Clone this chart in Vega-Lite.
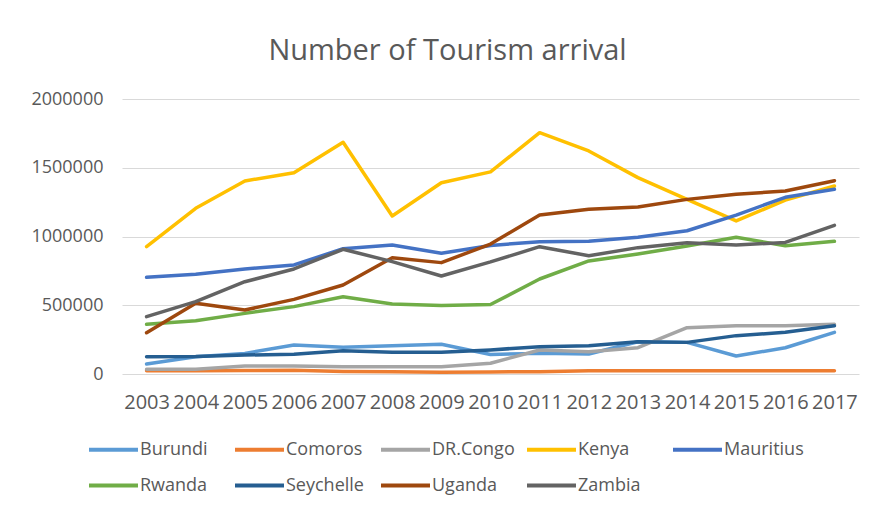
{
  "$schema": "https://vega.github.io/schema/vega-lite/v6.json",
  "autosize": {"type": "none"},
  "width": 737,
  "height": 275,
  "padding": {"left": 122, "top": 99, "right": 14, "bottom": 135},
  "background": "white",
  "title": {
    "text": "Number of Tourism arrival",
    "anchor": "middle",
    "dx": -43,
    "offset": 24,
    "font": "Open Sans",
    "fontSize": 29,
    "fontWeight": "normal",
    "color": "#595959"
  },
  "data": {
    "values": [
      {"country": "Burundi", "year": "2003", "value": 73000},
      {"country": "Burundi", "year": "2004", "value": 126000},
      {"country": "Burundi", "year": "2005", "value": 150000},
      {"country": "Burundi", "year": "2006", "value": 211000},
      {"country": "Burundi", "year": "2007", "value": 194000},
      {"country": "Burundi", "year": "2008", "value": 206000},
      {"country": "Burundi", "year": "2009", "value": 216000},
      {"country": "Burundi", "year": "2010", "value": 142000},
      {"country": "Burundi", "year": "2011", "value": 150000},
      {"country": "Burundi", "year": "2012", "value": 145000},
      {"country": "Burundi", "year": "2013", "value": 235000},
      {"country": "Burundi", "year": "2014", "value": 230000},
      {"country": "Burundi", "year": "2015", "value": 131000},
      {"country": "Burundi", "year": "2016", "value": 191000},
      {"country": "Burundi", "year": "2017", "value": 303000},
      {"country": "Comoros", "year": "2003", "value": 24000},
      {"country": "Comoros", "year": "2004", "value": 24000},
      {"country": "Comoros", "year": "2005", "value": 26000},
      {"country": "Comoros", "year": "2006", "value": 27000},
      {"country": "Comoros", "year": "2007", "value": 19000},
      {"country": "Comoros", "year": "2008", "value": 17000},
      {"country": "Comoros", "year": "2009", "value": 12000},
      {"country": "Comoros", "year": "2010", "value": 15000},
      {"country": "Comoros", "year": "2011", "value": 17000},
      {"country": "Comoros", "year": "2012", "value": 24000},
      {"country": "Comoros", "year": "2013", "value": 24000},
      {"country": "Comoros", "year": "2014", "value": 24000},
      {"country": "Comoros", "year": "2015", "value": 24000},
      {"country": "Comoros", "year": "2016", "value": 24000},
      {"country": "Comoros", "year": "2017", "value": 24000},
      {"country": "DR.Congo", "year": "2003", "value": 34000},
      {"country": "DR.Congo", "year": "2004", "value": 34000},
      {"country": "DR.Congo", "year": "2005", "value": 58000},
      {"country": "DR.Congo", "year": "2006", "value": 58000},
      {"country": "DR.Congo", "year": "2007", "value": 53000},
      {"country": "DR.Congo", "year": "2008", "value": 53000},
      {"country": "DR.Congo", "year": "2009", "value": 53000},
      {"country": "DR.Congo", "year": "2010", "value": 78000},
      {"country": "DR.Congo", "year": "2011", "value": 175000},
      {"country": "DR.Congo", "year": "2012", "value": 162000},
      {"country": "DR.Congo", "year": "2013", "value": 191000},
      {"country": "DR.Congo", "year": "2014", "value": 337000},
      {"country": "DR.Congo", "year": "2015", "value": 351000},
      {"country": "DR.Congo", "year": "2016", "value": 351000},
      {"country": "DR.Congo", "year": "2017", "value": 361000},
      {"country": "Kenya", "year": "2003", "value": 926000},
      {"country": "Kenya", "year": "2004", "value": 1205000},
      {"country": "Kenya", "year": "2005", "value": 1404000},
      {"country": "Kenya", "year": "2006", "value": 1464000},
      {"country": "Kenya", "year": "2007", "value": 1685000},
      {"country": "Kenya", "year": "2008", "value": 1149000},
      {"country": "Kenya", "year": "2009", "value": 1391000},
      {"country": "Kenya", "year": "2010", "value": 1470000},
      {"country": "Kenya", "year": "2011", "value": 1755000},
      {"country": "Kenya", "year": "2012", "value": 1622000},
      {"country": "Kenya", "year": "2013", "value": 1428000},
      {"country": "Kenya", "year": "2014", "value": 1270000},
      {"country": "Kenya", "year": "2015", "value": 1113000},
      {"country": "Kenya", "year": "2016", "value": 1265000},
      {"country": "Kenya", "year": "2017", "value": 1367000},
      {"country": "Mauritius", "year": "2003", "value": 703000},
      {"country": "Mauritius", "year": "2004", "value": 725000},
      {"country": "Mauritius", "year": "2005", "value": 764000},
      {"country": "Mauritius", "year": "2006", "value": 793000},
      {"country": "Mauritius", "year": "2007", "value": 911000},
      {"country": "Mauritius", "year": "2008", "value": 938000},
      {"country": "Mauritius", "year": "2009", "value": 878000},
      {"country": "Mauritius", "year": "2010", "value": 935000},
      {"country": "Mauritius", "year": "2011", "value": 962000},
      {"country": "Mauritius", "year": "2012", "value": 965000},
      {"country": "Mauritius", "year": "2013", "value": 994000},
      {"country": "Mauritius", "year": "2014", "value": 1042000},
      {"country": "Mauritius", "year": "2015", "value": 1156000},
      {"country": "Mauritius", "year": "2016", "value": 1285000},
      {"country": "Mauritius", "year": "2017", "value": 1343000},
      {"country": "Rwanda", "year": "2003", "value": 361000},
      {"country": "Rwanda", "year": "2004", "value": 388000},
      {"country": "Rwanda", "year": "2005", "value": 441000},
      {"country": "Rwanda", "year": "2006", "value": 490000},
      {"country": "Rwanda", "year": "2007", "value": 562000},
      {"country": "Rwanda", "year": "2008", "value": 509000},
      {"country": "Rwanda", "year": "2009", "value": 499000},
      {"country": "Rwanda", "year": "2010", "value": 505000},
      {"country": "Rwanda", "year": "2011", "value": 691000},
      {"country": "Rwanda", "year": "2012", "value": 822000},
      {"country": "Rwanda", "year": "2013", "value": 873000},
      {"country": "Rwanda", "year": "2014", "value": 931000},
      {"country": "Rwanda", "year": "2015", "value": 994000},
      {"country": "Rwanda", "year": "2016", "value": 933000},
      {"country": "Rwanda", "year": "2017", "value": 965000},
      {"country": "Seychelle", "year": "2003", "value": 126000},
      {"country": "Seychelle", "year": "2004", "value": 127000},
      {"country": "Seychelle", "year": "2005", "value": 138000},
      {"country": "Seychelle", "year": "2006", "value": 143000},
      {"country": "Seychelle", "year": "2007", "value": 169000},
      {"country": "Seychelle", "year": "2008", "value": 158000},
      {"country": "Seychelle", "year": "2009", "value": 158000},
      {"country": "Seychelle", "year": "2010", "value": 175000},
      {"country": "Seychelle", "year": "2011", "value": 199000},
      {"country": "Seychelle", "year": "2012", "value": 206000},
      {"country": "Seychelle", "year": "2013", "value": 235000},
      {"country": "Seychelle", "year": "2014", "value": 230000},
      {"country": "Seychelle", "year": "2015", "value": 279000},
      {"country": "Seychelle", "year": "2016", "value": 303000},
      {"country": "Seychelle", "year": "2017", "value": 351000},
      {"country": "Uganda", "year": "2003", "value": 300000},
      {"country": "Uganda", "year": "2004", "value": 515000},
      {"country": "Uganda", "year": "2005", "value": 465000},
      {"country": "Uganda", "year": "2006", "value": 543000},
      {"country": "Uganda", "year": "2007", "value": 647000},
      {"country": "Uganda", "year": "2008", "value": 846000},
      {"country": "Uganda", "year": "2009", "value": 810000},
      {"country": "Uganda", "year": "2010", "value": 945000},
      {"country": "Uganda", "year": "2011", "value": 1156000},
      {"country": "Uganda", "year": "2012", "value": 1198000},
      {"country": "Uganda", "year": "2013", "value": 1215000},
      {"country": "Uganda", "year": "2014", "value": 1270000},
      {"country": "Uganda", "year": "2015", "value": 1307000},
      {"country": "Uganda", "year": "2016", "value": 1331000},
      {"country": "Uganda", "year": "2017", "value": 1406000},
      {"country": "Zambia", "year": "2003", "value": 417000},
      {"country": "Zambia", "year": "2004", "value": 526000},
      {"country": "Zambia", "year": "2005", "value": 671000},
      {"country": "Zambia", "year": "2006", "value": 764000},
      {"country": "Zambia", "year": "2007", "value": 907000},
      {"country": "Zambia", "year": "2008", "value": 817000},
      {"country": "Zambia", "year": "2009", "value": 713000},
      {"country": "Zambia", "year": "2010", "value": 815000},
      {"country": "Zambia", "year": "2011", "value": 926000},
      {"country": "Zambia", "year": "2012", "value": 860000},
      {"country": "Zambia", "year": "2013", "value": 919000},
      {"country": "Zambia", "year": "2014", "value": 955000},
      {"country": "Zambia", "year": "2015", "value": 938000},
      {"country": "Zambia", "year": "2016", "value": 957000},
      {"country": "Zambia", "year": "2017", "value": 1081000}
    ]
  },
  "mark": {"type": "line", "strokeWidth": 3.5, "strokeCap": "round", "strokeJoin": "round"},
  "encoding": {
    "x": {
      "field": "year",
      "type": "ordinal",
      "scale": {"type": "point", "padding": 0.5},
      "axis": {
        "title": null,
        "labelAngle": 0,
        "domain": false,
        "ticks": false,
        "grid": false,
        "labelPadding": 18,
        "labelFont": "Open Sans",
        "labelFontSize": 20,
        "labelColor": "#595959"
      }
    },
    "y": {
      "field": "value",
      "type": "quantitative",
      "scale": {"domain": [0, 2000000]},
      "axis": {
        "title": null,
        "values": [0, 500000, 1000000, 1500000, 2000000],
        "format": "d",
        "domain": false,
        "ticks": false,
        "gridColor": "#d9d9d9",
        "gridWidth": 1,
        "labelPadding": 19,
        "labelFont": "Open Sans",
        "labelFontSize": 18,
        "labelColor": "#595959"
      }
    },
    "color": {
      "field": "country",
      "type": "nominal",
      "scale": {
        "domain": ["Burundi", "Comoros", "DR.Congo", "Kenya", "Mauritius", "Rwanda", "Seychelle", "Uganda", "Zambia"],
        "range": ["#5B9BD5", "#ED7D31", "#A5A5A5", "#FFC000", "#4472C4", "#70AD47", "#255E91", "#9E480E", "#636363"]
      },
      "legend": {
        "title": null,
        "orient": "none",
        "legendX": -35,
        "legendY": 324,
        "direction": "horizontal",
        "columns": 5,
        "gridAlign": "all",
        "columnPadding": 4,
        "rowPadding": -6,
        "symbolType": "stroke",
        "symbolSize": 2400,
        "symbolStrokeWidth": 4,
        "labelOffset": 0,
        "labelFont": "Open Sans",
        "labelFontSize": 18,
        "labelColor": "#595959"
      }
    }
  },
  "config": {"view": {"stroke": null}}
}
